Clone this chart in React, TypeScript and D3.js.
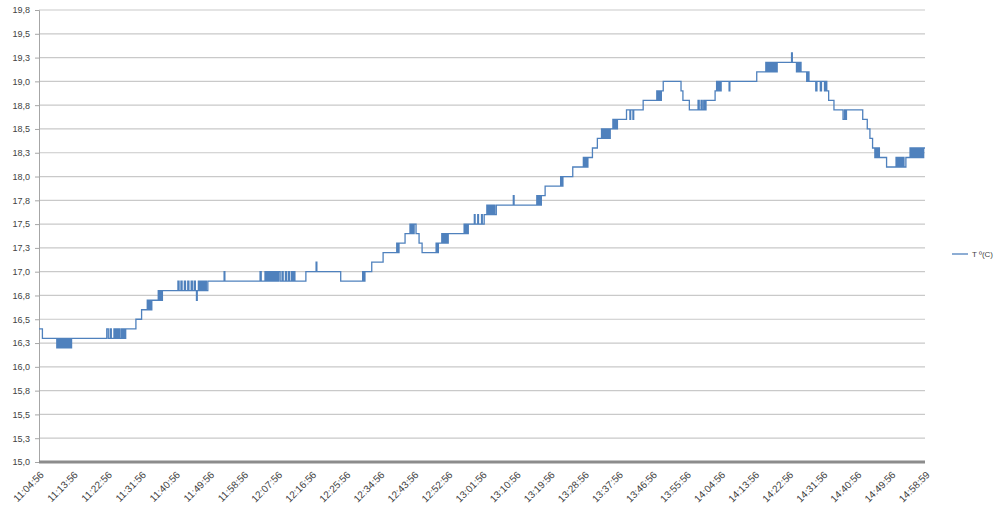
import * as d3 from 'd3';
import React, { useEffect, useRef } from 'react';

// readings: [minutes since 11:04:56, temperature °C]
const readings: [number, number][] = [
  [0, 16.4], [0.9, 16.3],
  [4.7, 16.2], [5.0, 16.3], [5.3, 16.2], [5.6, 16.3], [5.9, 16.2], [6.2, 16.3], [6.5, 16.2], [6.8, 16.3],
  [7.1, 16.2], [7.4, 16.3], [7.7, 16.2], [8.0, 16.3], [8.3, 16.2], [8.6, 16.3],
  [17.9, 16.4], [18.3, 16.3], [18.8, 16.4], [19.1, 16.3], [19.8, 16.4], [20.1, 16.3], [20.4, 16.4], [20.7, 16.3],
  [21.0, 16.4], [21.3, 16.3], [21.7, 16.4], [22.0, 16.3], [22.3, 16.4], [22.6, 16.3], [22.9, 16.4],
  [25.6, 16.5], [27.1, 16.6],
  [28.6, 16.7], [28.9, 16.6], [29.2, 16.7], [29.5, 16.6], [29.8, 16.7],
  [31.5, 16.8], [31.8, 16.7], [32.1, 16.8], [32.4, 16.7], [32.6, 16.8],
  [36.7, 16.9], [37.0, 16.8], [37.5, 16.9], [37.8, 16.8], [38.4, 16.9], [38.7, 16.8], [39.3, 16.9], [39.6, 16.8],
  [40.2, 16.9], [40.5, 16.8], [41.0, 16.9], [41.3, 16.8], [41.6, 16.7], [41.8, 16.8], [42.1, 16.9], [42.4, 16.8],
  [42.7, 16.9], [43.0, 16.8], [43.3, 16.9], [43.6, 16.8], [43.9, 16.9], [44.2, 16.8], [44.6, 16.9],
  [48.9, 17.0], [49.1, 16.9],
  [58.4, 17.0], [58.7, 16.9], [59.7, 17.0], [60.0, 16.9], [60.3, 17.0], [60.6, 16.9], [60.9, 17.0], [61.2, 16.9],
  [61.5, 17.0], [61.8, 16.9], [62.1, 17.0], [62.4, 16.9], [62.7, 17.0], [63.0, 16.9], [63.3, 17.0], [63.7, 16.9],
  [64.2, 17.0], [64.5, 16.9], [65.1, 17.0], [65.4, 16.9], [65.9, 17.0], [66.2, 16.9], [66.7, 17.0], [67.0, 16.9],
  [67.3, 17.0], [67.6, 16.9],
  [70.5, 17.0], [73.2, 17.1], [73.4, 17.0],
  [79.7, 16.9],
  [85.5, 17.0], [85.8, 16.9], [86.1, 17.0],
  [87.9, 17.1], [90.9, 17.2],
  [94.5, 17.3], [94.8, 17.2], [95.1, 17.3],
  [96.7, 17.4],
  [98.0, 17.5], [98.3, 17.4], [98.6, 17.5], [98.9, 17.4], [99.1, 17.5],
  [99.6, 17.4], [100.4, 17.3], [101.2, 17.2],
  [104.9, 17.3], [105.2, 17.2], [105.5, 17.3],
  [106.4, 17.4], [106.7, 17.3], [107.0, 17.4], [107.3, 17.3], [107.6, 17.4], [107.9, 17.3], [108.1, 17.4],
  [112.3, 17.5], [112.6, 17.4], [112.9, 17.5], [113.2, 17.4], [113.4, 17.5],
  [115.0, 17.6], [115.2, 17.5], [115.9, 17.6], [116.1, 17.5], [116.9, 17.6], [117.1, 17.5], [117.6, 17.6],
  [118.3, 17.7], [118.6, 17.6], [118.9, 17.7], [119.2, 17.6], [119.5, 17.7], [119.8, 17.6], [120.1, 17.7],
  [120.4, 17.6], [120.8, 17.7],
  [125.3, 17.8], [125.5, 17.7],
  [131.5, 17.8], [131.8, 17.7], [132.1, 17.8], [132.4, 17.7], [132.7, 17.8],
  [133.7, 17.9],
  [137.8, 18.0], [138.1, 17.9], [138.4, 18.0],
  [141.0, 18.1],
  [143.8, 18.2], [144.1, 18.1], [144.4, 18.2], [144.7, 18.1], [145.0, 18.2],
  [146.2, 18.3], [147.5, 18.4],
  [148.6, 18.5], [148.9, 18.4], [149.2, 18.5], [149.5, 18.4], [149.8, 18.5], [150.1, 18.4], [150.4, 18.5],
  [150.7, 18.4], [150.9, 18.5],
  [151.6, 18.6], [151.9, 18.5], [152.2, 18.6], [152.5, 18.5], [152.8, 18.6],
  [155.2, 18.7], [156.1, 18.6], [156.3, 18.7], [156.9, 18.6], [157.1, 18.7],
  [159.6, 18.8],
  [163.2, 18.9], [163.5, 18.8], [163.8, 18.9], [164.1, 18.8], [164.4, 18.9],
  [164.9, 19.0],
  [169.6, 18.9], [170.1, 18.8], [171.8, 18.7],
  [174.1, 18.8], [174.4, 18.7], [174.9, 18.8], [175.2, 18.7], [175.6, 18.8], [175.9, 18.7], [176.2, 18.8],
  [178.6, 18.9],
  [179.0, 19.0], [179.3, 18.9], [179.6, 19.0], [179.9, 18.9], [180.2, 19.0],
  [182.3, 18.9], [182.5, 19.0],
  [189.6, 19.1],
  [192.0, 19.2], [192.3, 19.1], [192.6, 19.2], [192.9, 19.1], [193.2, 19.2], [193.5, 19.1], [193.8, 19.2],
  [194.1, 19.1], [194.4, 19.2], [194.7, 19.1], [195.0, 19.2],
  [198.8, 19.3], [199.0, 19.2],
  [200.1, 19.1], [200.4, 19.2], [200.7, 19.1], [201.0, 19.2], [201.3, 19.1],
  [202.8, 19.0], [203.1, 19.1], [203.4, 19.0],
  [205.2, 18.9], [205.5, 19.0], [206.4, 18.9], [206.7, 19.0], [207.5, 18.9], [207.8, 19.0], [208.1, 18.9],
  [208.6, 18.8], [210.0, 18.7],
  [212.4, 18.6], [212.8, 18.7], [213.0, 18.6], [213.3, 18.7],
  [217.6, 18.6], [218.8, 18.5], [219.5, 18.4], [220.2, 18.3],
  [220.8, 18.2], [221.1, 18.3], [221.4, 18.2], [221.7, 18.3], [222.0, 18.2],
  [223.9, 18.1],
  [226.4, 18.2], [226.7, 18.1], [227.0, 18.2], [227.3, 18.1], [227.6, 18.2], [227.9, 18.1], [228.2, 18.2],
  [228.5, 18.1], [229.0, 18.2],
  [230.1, 18.3], [230.4, 18.2], [230.7, 18.3], [231.0, 18.2], [231.3, 18.3], [231.6, 18.2], [231.9, 18.3],
  [232.2, 18.2], [232.5, 18.3], [232.8, 18.2], [233.1, 18.3], [233.4, 18.2], [233.7, 18.3], [234.05, 18.3],
];

const xTickMinutes = [
  0, 9, 18, 27, 36, 45, 54, 63, 72, 81, 90, 99, 108, 117, 126, 135, 144, 153, 162, 171, 180, 189, 198, 207,
  216, 225, 234.05,
];
const xTickLabels = [
  '11:04:56', '11:13:56', '11:22:56', '11:31:56', '11:40:56', '11:49:56', '11:58:56', '12:07:56', '12:16:56',
  '12:25:56', '12:34:56', '12:43:56', '12:52:56', '13:01:56', '13:10:56', '13:19:56', '13:28:56', '13:37:56',
  '13:46:56', '13:55:56', '14:04:56', '14:13:56', '14:22:56', '14:31:56', '14:40:56', '14:49:56', '14:58:59',
];
const yTicks = [
  15, 15.25, 15.5, 15.75, 16, 16.25, 16.5, 16.75, 17, 17.25, 17.5, 17.75, 18, 18.25, 18.5, 18.75, 19, 19.25,
  19.5, 19.75,
];
const seriesName = 'T º(C)';

export default function App() {
  const svgRef = useRef<SVGSVGElement>(null);
  const width = 1000;
  const height = 517;

  useEffect(() => {
    const svg = d3.select(svgRef.current);
    svg.selectAll('*').remove();

    const left = 39;
    const right = 925;
    const top = 10;
    const bottom = 462;
    const font = '"Liberation Sans", Arial, sans-serif';

    const x = d3.scaleLinear().domain([0, 234.05]).range([left, right]);
    const y = d3.scaleLinear().domain([15, 19.75]).range([bottom, top]);

    // grid lines
    svg.append('g')
      .selectAll('line')
      .data(yTicks.slice(1))
      .enter()
      .append('line')
      .attr('x1', left)
      .attr('x2', right)
      .attr('y1', (d) => y(d))
      .attr('y2', (d) => y(d))
      .attr('stroke', '#c9c9c9')
      .attr('stroke-width', 1.2);

    // left axis
    const yAxis = d3.axisLeft(y)
      .tickValues(yTicks)
      .tickSize(4)
      .tickPadding(5)
      .tickFormat((d) => d3.format('.1f')(d as number).replace('.', ','));
    const gy = svg.append('g').attr('transform', `translate(${left},0)`).call(yAxis);
    gy.select('.domain').attr('stroke', '#a6a6a6');
    gy.selectAll('.tick line').attr('stroke', '#a6a6a6');
    gy.selectAll('.tick text')
      .attr('fill', '#3f3f3f')
      .style('font-family', font)
      .style('font-size', '9px');

    // bottom axis
    svg.append('line')
      .attr('x1', left)
      .attr('x2', right)
      .attr('y1', bottom)
      .attr('y2', bottom)
      .attr('stroke', '#8c8c8c')
      .attr('stroke-width', 3);

    svg.append('g')
      .selectAll('text')
      .data(xTickMinutes)
      .enter()
      .append('text')
      .attr('transform', (d) => `translate(${x(d) + 3},${bottom + 11}) rotate(-45)`)
      .attr('text-anchor', 'end')
      .attr('dy', '0.35em')
      .attr('fill', '#3f3f3f')
      .style('font-family', font)
      .style('font-size', '10px')
      .text((d, i) => xTickLabels[i]);

    // temperature line
    const line = d3.line<[number, number]>()
      .x((d) => x(d[0]))
      .y((d) => y(d[1]))
      .curve(d3.curveStepAfter);

    svg.append('path')
      .datum(readings)
      .attr('d', line)
      .attr('fill', 'none')
      .attr('stroke', '#4f81bd')
      .attr('stroke-width', 1.3);

    // legend
    svg.append('line')
      .attr('x1', 952)
      .attr('x2', 968)
      .attr('y1', 254)
      .attr('y2', 254)
      .attr('stroke', '#4f81bd')
      .attr('stroke-width', 1.3);
    svg.append('text')
      .attr('x', 972)
      .attr('y', 254)
      .attr('dy', '0.35em')
      .attr('fill', '#3f3f3f')
      .style('font-family', font)
      .style('font-size', '8px')
      .text(seriesName);
  }, []);

  return (
    <svg
      ref={svgRef}
      width={width}
      height={height}
      style={{ position: 'absolute', left: 0, top: 0, background: '#fff' }}
    />
  );
}
